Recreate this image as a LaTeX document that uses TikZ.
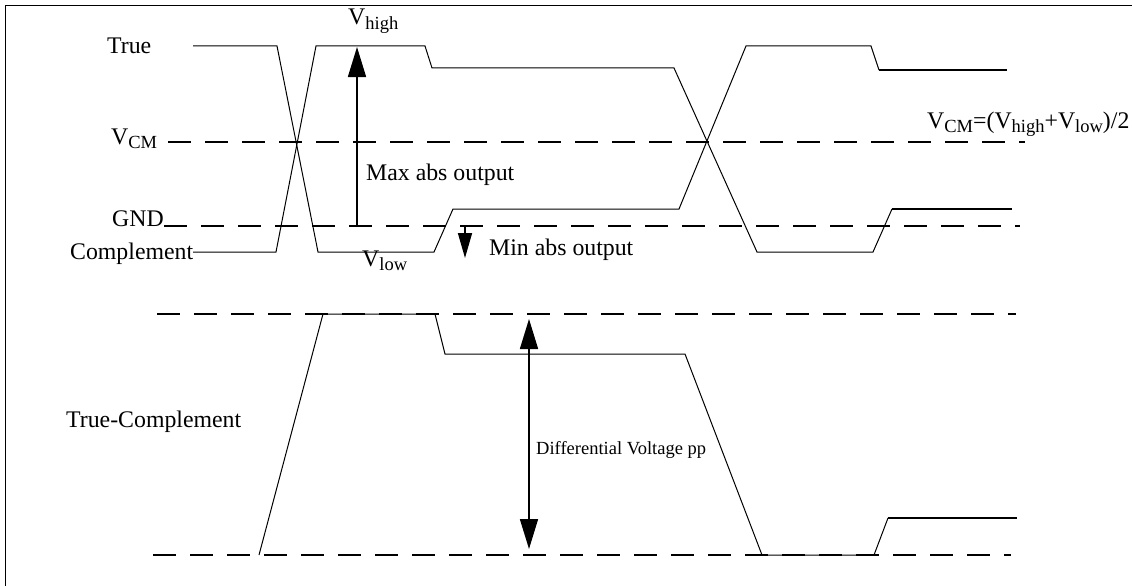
\documentclass[tikz,border=0pt]{standalone}
\usepackage{fontspec}
\setmainfont{Liberation Serif}
\usetikzlibrary{positioning,arrows.meta}
\newcommand\lsub[1]{\raisebox{-4.5pt}{\fontsize{18.5}{19}\selectfont #1}}
\tikzset{lbl/.style={inner sep=0pt,anchor=base west,font=\fontsize{23.8}{26}\selectfont},
  small lbl/.style={inner sep=0pt,anchor=base west,font=\fontsize{18.5}{20}\selectfont},
  sig/.style={line width=1pt},
  sig end/.style={line width=2pt},
  ref line/.style={line width=2.5pt,dash pattern=on 23pt off 14pt},
  dim arrow/.style={line width=1.6pt,-{Triangle[length=30pt,width=18pt]}}}

\begin{document}
\begin{tikzpicture}[x=1pt,y=-1pt]
      \useasboundingbox (0,0) rectangle (1132,586);
      \draw[line width=1pt] (5.4,586) -- (5.4,6) -- (1132,6);
      % levels
      \draw[ref line] (168,142) -- (1025,142);
      \draw[ref line] (164,226) -- (1020,226);
      \draw[ref line] (157,314) -- (1016,314);
      \draw[ref line] (153,555) -- (1011,555);
      % true / complement
      \draw[sig] (193,46) -- (277,46) -- (318,252) -- (434,252) -- (453,209) -- (679,209) -- (746,46) -- (871,46) -- (879,70);
      \draw[sig end] (879,70) -- (1007,70);
      \draw[sig] (193,252) -- (276,252) -- (316,46) -- (425,46) -- (432,68) -- (674,68) -- (757,252) -- (873,252) -- (892,209);
      \draw[sig end] (892,209) -- (1012,209);
      % difference
      \draw[sig] (259,555) -- (323,314) -- (435,314) -- (445,354) -- (685,354) -- (762,555) -- (874,555) -- (888,518);
      \draw[sig end] (888,518) -- (1017,518);
      % arrows
      \coordinate (maxlo) at (357,226);
      \coordinate (maxhi) at (357,47);
      \coordinate (minhi) at (465,227);
      \coordinate (minlo) at (465,258);
      \coordinate (difhi) at (529,319);
      \coordinate (diflo) at (529,549);
      \draw[dim arrow] (maxlo) -- (maxhi);
      \draw[dim arrow,-{Triangle[length=25pt,width=14pt]}] (minhi) -- (minlo);
      \draw[dim arrow,{Triangle[length=30pt,width=18pt]}-{Triangle[length=30pt,width=18pt]}] (difhi) -- (diflo);
      % labels
      \node[lbl] (true) at (107,53) {True};
      \node[lbl] (vcm) at (111,144) {V\lsub{CM}};
      \node[lbl] (gnd) at (112,226) {GND};
      \node[lbl] (comp) at (70,259) {Complement};
      \node[lbl] (vhigh) at (348,25) {V\lsub{high}};
      \node[lbl] (vlow) at (362,266) {V\lsub{low}};
      \node[lbl] (maxabs) at (366,180) {Max abs output};
      \node[lbl] (minabs) at (489,255) {Min abs output};
      \node[lbl] (vcmdef) at (927,128) {V\lsub{CM}=(V\lsub{high}+V\lsub{low})/2};
      \node[lbl] (tc) at (66,427) {True-Complement};
      \node[small lbl] (diff) at (536,454) {Differential Voltage pp};
\end{tikzpicture}
\end{document}
